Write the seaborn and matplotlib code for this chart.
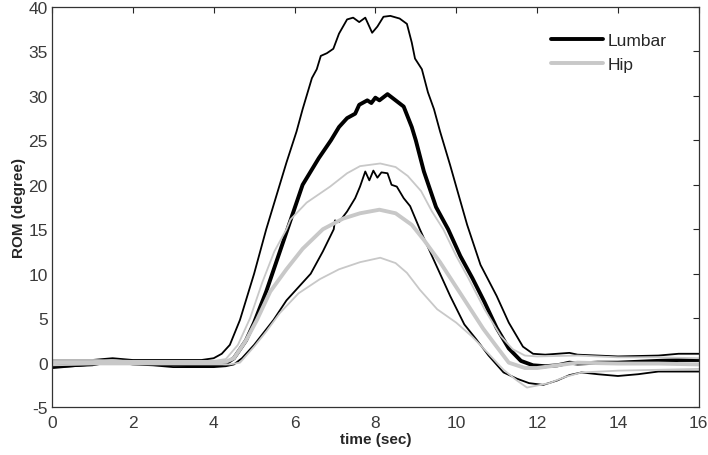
import numpy as np
import pandas as pd
import seaborn as sns
import matplotlib.pyplot as plt

# time points / values (degree)
lum_mean_t = [0, 0.5, 1, 1.5, 2, 2.5, 3, 3.5, 4.0, 4.3, 4.5, 4.8, 5.0, 5.3, 5.6, 5.9, 6.2, 6.4, 6.6, 6.9,
              7.1, 7.3, 7.5, 7.6, 7.8, 7.9, 8.0, 8.1, 8.3, 8.5, 8.7, 8.9, 9.0, 9.2, 9.5, 9.8, 10.1, 10.4,
              10.7, 11.0, 11.3, 11.6, 11.9, 12.2, 12.5, 12.8, 13.0, 13.5, 14, 14.5, 15, 15.5, 16]
lum_mean_v = [-0.5, -0.3, -0.1, 0.1, 0.0, -0.1, -0.2, -0.3, -0.3, -0.1, 0.5, 2.5, 4.5, 8, 12, 16, 20, 21.5, 23, 25,
              26.5, 27.5, 28, 29, 29.5, 29.2, 29.8, 29.5, 30.2, 29.5, 28.8, 26.5, 25, 21.5, 17.5, 15, 12, 9.5,
              6.8, 3.9, 1.6, 0.2, -0.3, -0.4, -0.3, 0.0, -0.1, 0.0, 0.0, 0.1, 0.2, 0.3, 0.3]

lum_up_t = [0, 1, 1.5, 2, 3, 3.7, 4.0, 4.2, 4.4, 4.65, 5.0, 5.3, 5.6, 5.8, 6.05, 6.2, 6.43, 6.55, 6.65, 6.8,
            6.96, 7.1, 7.3, 7.45, 7.6, 7.75, 7.92, 8.05, 8.2, 8.37, 8.6, 8.78, 8.9, 8.98, 9.15, 9.3, 9.45,
            9.6, 9.85, 10.05, 10.27, 10.6, 11.0, 11.3, 11.65, 11.9, 12.2, 12.5, 12.8, 13, 14, 15, 15.5, 16]
lum_up_v = [0.3, 0.3, 0.5, 0.3, 0.3, 0.3, 0.5, 1.0, 2.0, 4.8, 10, 15, 19.5, 22.5, 26, 28.5, 32, 33, 34.5, 34.8,
            35.3, 37, 38.6, 38.8, 38.3, 38.8, 37.1, 37.8, 38.9, 39.0, 38.7, 38.1, 36, 34.2, 33, 30.4, 28.5,
            26, 22.2, 19, 15.5, 11, 7.5, 4.5, 1.8, 1.0, 0.9, 1.0, 1.1, 0.9, 0.7, 0.8, 1.0, 1.0]

lum_lo_t = [0, 0.5, 1, 1.5, 2, 2.5, 3, 3.5, 4.0, 4.3, 4.5, 4.7, 5.0, 5.48, 5.8, 6.1, 6.4, 6.7, 6.97, 7.0,
            7.1, 7.3, 7.5, 7.62, 7.75, 7.85, 7.95, 8.05, 8.15, 8.3, 8.4, 8.53, 8.7, 8.86, 9.1, 9.5, 9.85,
            10.2, 10.5, 10.8, 11.17, 11.5, 11.8, 12.15, 12.5, 12.8, 13.1, 13.5, 14, 14.5, 15, 16]
lum_lo_v = [-0.5, -0.4, -0.3, 0.1, -0.2, -0.3, -0.5, -0.5, -0.5, -0.4, -0.2, 0.5, 2.0, 4.8, 7, 8.5, 10, 12.5, 15, 16,
            15.8, 17, 18.5, 19.8, 21.5, 20.5, 21.6, 20.8, 21.4, 21.3, 20.0, 19.8, 18.5, 17.6, 15, 11, 7.5,
            4.3, 2.6, 0.8, -1.1, -1.8, -2.3, -2.5, -2.0, -1.4, -1.1, -1.3, -1.5, -1.3, -1.0, -1.0]

hip_mean_t = [0, 1, 2, 3, 4.0, 4.3, 4.5, 4.8, 5.07, 5.4, 5.8, 6.2, 6.7, 7.2, 7.62, 8.1, 8.5, 8.9, 9.2, 9.6,
              10.0, 10.67, 11.0, 11.3, 11.7, 12.0, 12.5, 13, 14, 15, 16]
hip_mean_v = [0.0, 0.0, 0.0, 0.0, 0.0, 0.1, 0.5, 2.5, 4.8, 8, 10.5, 12.8, 15, 16.2, 16.8, 17.2, 16.8, 15.5, 13.8, 11.3,
              8.5, 3.8, 1.8, 0.0, -0.6, -0.6, -0.3, 0.0, -0.1, -0.1, -0.2]

hip_up_t = [0, 1, 2, 3, 4, 4.3, 4.6, 4.9, 5.2, 5.5, 5.8, 5.9, 6.3, 6.88, 7.3, 7.62, 8.12, 8.5, 8.8, 9.13,
            9.4, 9.68, 10.0, 10.3, 10.7, 11.1, 11.4, 11.7, 12, 13, 14, 15, 16]
hip_up_v = [0.3, 0.3, 0.2, 0.2, 0.2, 0.4, 2, 5, 9, 12.5, 15, 16.1, 18, 19.8, 21.3, 22.1, 22.4, 22.0, 21.0, 19.3,
            17, 15, 12, 9.5, 6, 3, 1.5, 0.8, 0.7, 0.8, 0.6, 0.6, 0.5]

hip_lo_t = [0, 1, 2, 3, 4, 4.4, 4.65, 5.0, 5.3, 5.64, 6.1, 6.63, 7.1, 7.62, 8.12, 8.5, 8.78, 9.1, 9.53, 10.0,
            10.4, 10.8, 11.17, 11.5, 11.75, 12.3, 12.7, 13.1, 14, 15, 16]
hip_lo_v = [-0.3, -0.2, -0.2, -0.2, -0.2, -0.2, 0.0, 1.8, 3.5, 5.6, 7.8, 9.4, 10.5, 11.3, 11.8, 11.2, 10.1, 8.2, 6.0, 4.5,
            2.9, 1.0, -0.8, -2.0, -2.8, -2.3, -1.6, -1.1, -0.9, -0.8, -0.7]

black = '#000000'
gray = '#c8c8c8'

sns.set_style('white')
plt.rcParams['font.family'] = ['Liberation Sans', 'DejaVu Sans']
plt.rcParams['axes.unicode_minus'] = False

fig = plt.figure(figsize=(7.08, 4.56), dpi=100)
ax = fig.add_axes([0.0734, 0.105, 0.9136, 0.8775])

sns.lineplot(x=lum_up_t, y=lum_up_v, ax=ax, color=black, lw=1.3, sort=False, estimator=None)
sns.lineplot(x=lum_lo_t, y=lum_lo_v, ax=ax, color=black, lw=1.3, sort=False, estimator=None)
sns.lineplot(x=lum_mean_t, y=lum_mean_v, ax=ax, color=black, lw=2.8, sort=False, estimator=None, label='Lumbar')
sns.lineplot(x=hip_up_t, y=hip_up_v, ax=ax, color=gray, lw=1.3, sort=False, estimator=None)
sns.lineplot(x=hip_lo_t, y=hip_lo_v, ax=ax, color=gray, lw=1.3, sort=False, estimator=None)
sns.lineplot(x=hip_mean_t, y=hip_mean_v, ax=ax, color=gray, lw=2.8, sort=False, estimator=None, label='Hip')

ax.set_xlim(0, 16)
ax.set_ylim(-5, 40)
ax.set_xticks(range(0, 17, 2))
ax.set_yticks(range(-5, 41, 5))
ax.tick_params(direction='in', length=4.5, width=0.8, top=True, right=True,
               labelsize=12.5, labelcolor='#3a3a3a')
ax.tick_params(axis='x', pad=6)
ax.tick_params(axis='y', pad=3)
for s in ax.spines.values():
    s.set_color('#333333')
    s.set_linewidth(0.9)

ax.set_xlabel('time (sec)', fontsize=11, fontweight='bold', labelpad=1)
ax.set_ylabel('ROM (degree)', fontsize=11, fontweight='bold', labelpad=2)

leg = ax.legend(loc='upper right', frameon=False, fontsize=12.5, handlelength=3.0,
                handletextpad=0.3, labelspacing=0.55, bbox_to_anchor=(0.975, 0.975))

fig.savefig('out.png', dpi=100)
